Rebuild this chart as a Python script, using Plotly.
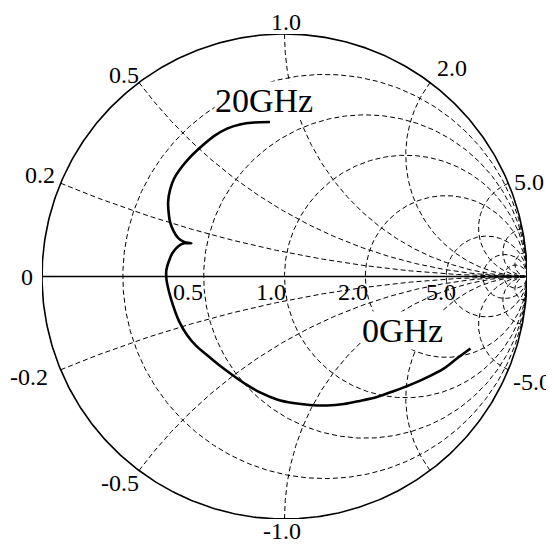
import numpy as np
import plotly.graph_objects as go

gamma_re = [0.767, 0.711, 0.658, 0.588, 0.518, 0.452, 0.381, 0.311, 0.245, 0.175,
            0.105, 0.035, -0.031, -0.101, -0.155, -0.212, -0.270, -0.320, -0.365, -0.402,
            -0.435, -0.460, -0.476, -0.487, -0.487, -0.478, -0.462, -0.439, -0.414, -0.384,
            -0.414, -0.439, -0.458, -0.472, -0.478, -0.480, -0.472, -0.456, -0.427, -0.390,
            -0.336, -0.291, -0.237, -0.184, -0.126, -0.060]
gamma_im = [-0.297, -0.338, -0.379, -0.416, -0.447, -0.472, -0.497, -0.513, -0.526, -0.532,
            -0.530, -0.522, -0.507, -0.478, -0.447, -0.408, -0.365, -0.324, -0.285, -0.241,
            -0.184, -0.118, -0.064, -0.010, 0.027, 0.060, 0.097, 0.124, 0.137, 0.137,
            0.142, 0.159, 0.188, 0.225, 0.266, 0.307, 0.357, 0.402, 0.447, 0.491,
            0.542, 0.579, 0.610, 0.627, 0.635, 0.637]
freq_start_label = "0GHz"
freq_end_label = "20GHz"

# ---- grid values
r_grid = [0.2, 0.5, 1.0, 2.0, 5.0, 10.0, 20.0]
x_grid = [0.2, 0.5, 1.0, 2.0, 5.0, 10.0, 20.0]

# ---- tick labels
r_tick_vals = [0.5, 1.0, 2.0, 5.0]
r_tick_text = ["0.5", "1.0", "2.0", "5.0"]
r_tick_offsets = [(-15.7, -15), (-14, -15), (-12.8, -15), (-5.2, -15)]
x_tick_vals = [0.2, 0.5, 1.0, 2.0, 5.0, -0.2, -0.5, -1.0, -5.0]
x_tick_text = ["0.2", "0.5", "1.0", "2.0", "5.0", "-0.2", "-0.5", "-1.0", "-5.0"]
x_tick_offsets = [(-20.7, 8.2), (-15.5, 8), (1, 12), (22, 15), (20.4, 1.7),
                  (-31.7, -7.2), (-19, -12), (-2.5, -11.5), (23.7, -12.7)]

FONT = "Liberation Serif"


def z_to_gamma(z):
    return (z - 1) / (z + 1)


gx, gy = [], []
theta = np.linspace(0, 2 * np.pi, 500)
for r in r_grid:
    c = r / (1 + r)
    rad = 1 / (1 + r)
    gx += list(c + rad * np.cos(theta)) + [None]
    gy += list(rad * np.sin(theta)) + [None]
t = np.concatenate([[0.0], np.logspace(-3, 3.7, 700)])
for xv in x_grid:
    for s in (1, -1):
        g = z_to_gamma(t + 1j * s * xv)
        gx += list(g.real) + [None]
        gy += list(g.imag) + [None]

fig = go.Figure()
fig.add_trace(go.Scatter(x=gx, y=gy, mode="lines", cliponaxis=False, hoverinfo="skip",
                         line=dict(color="black", width=1.0, dash="5px,3px")))
# outer circle (r = 0) and real axis (x = 0)
fig.add_trace(go.Scatter(x=list(np.cos(theta)), y=list(np.sin(theta)), mode="lines",
                         cliponaxis=False, hoverinfo="skip",
                         line=dict(color="black", width=1.6)))
fig.add_trace(go.Scatter(x=[-1, 1], y=[0, 0], mode="lines", cliponaxis=False,
                         hoverinfo="skip", line=dict(color="black", width=1.3)))
# S11 trace
fig.add_trace(go.Scatter(x=gamma_re, y=gamma_im, mode="lines", cliponaxis=False,
                         line=dict(color="black", width=2.6, shape="spline", smoothing=0.8)))

ann = []
for v, txt, (dx, dy) in zip(r_tick_vals, r_tick_text, r_tick_offsets):
    g = z_to_gamma(complex(v, 0))
    ann.append(dict(x=g.real, y=0, text=txt, showarrow=False, xanchor="center",
                    yanchor="middle", xshift=dx, yshift=dy,
                    font=dict(family=FONT, size=24, color="black")))
ann.append(dict(x=-1, y=0, text="0", showarrow=False, xanchor="center", yanchor="middle",
                xshift=-15, yshift=0, font=dict(family=FONT, size=24, color="black")))
for v, txt, (dx, dy) in zip(x_tick_vals, x_tick_text, x_tick_offsets):
    g = z_to_gamma(complex(0, v))
    ann.append(dict(x=g.real, y=g.imag, text=txt, showarrow=False, xanchor="center",
                    yanchor="middle", xshift=dx, yshift=dy,
                    font=dict(family=FONT, size=24, color="black")))
ann.append(dict(x=gamma_re[-1], y=gamma_im[-1], text=freq_end_label, showarrow=False,
                xanchor="center", yanchor="middle", xshift=-6, yshift=21.5,
                bgcolor="white", borderpad=0,
                font=dict(family=FONT, size=34, color="black")))
ann.append(dict(x=gamma_re[0], y=gamma_im[0], text=freq_start_label, showarrow=False,
                xanchor="center", yanchor="middle", xshift=-68, yshift=18,
                bgcolor="white", borderpad=0,
                font=dict(family=FONT, size=34, color="black")))

# the page body adds an 8px offset, so the left/top margins are reduced by 8px
fig.update_layout(
    width=554, height=544,
    margin=dict(l=34, r=35, t=26, b=33),
    paper_bgcolor="white", plot_bgcolor="white",
    showlegend=False,
    xaxis=dict(range=[-1, 1], visible=False, fixedrange=True),
    yaxis=dict(range=[-1, 1], visible=False, fixedrange=True),
    annotations=ann,
)
fig.write_html("out.html")
